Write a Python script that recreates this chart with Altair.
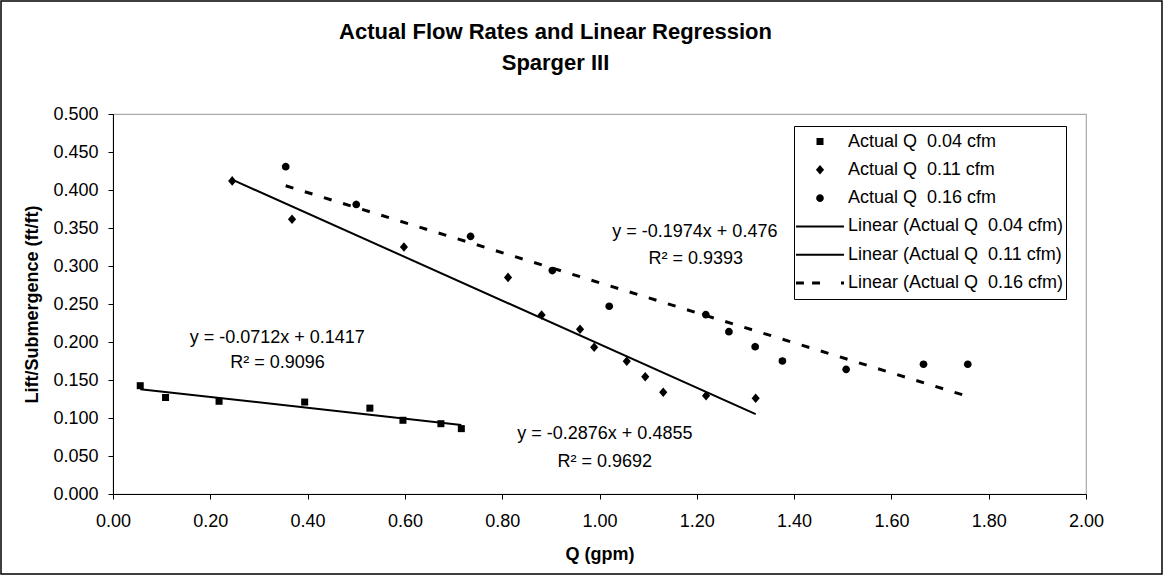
import math
import altair as alt
import pandas as pd

# ---------------- data ----------------
series_names = ["Actual Q\u00a0 0.04 cfm", "Actual Q\u00a0 0.11 cfm", "Actual Q\u00a0 0.16 cfm"]
trend_names = ["Linear (Actual Q\u00a0 0.04 cfm)", "Linear (Actual Q\u00a0 0.11 cfm)",
               "Linear (Actual Q\u00a0 0.16 cfm)"]

q_004 = [0.056, 0.108, 0.218, 0.394, 0.528, 0.596, 0.674, 0.716]
ls_004 = [0.1425, 0.127, 0.122, 0.121, 0.113, 0.097, 0.0925, 0.086]

q_011 = [0.245, 0.368, 0.598, 0.812, 0.881, 0.960, 0.989, 1.056, 1.094, 1.131, 1.219, 1.321]
ls_011 = [0.412, 0.3615, 0.325, 0.285, 0.2355, 0.2167, 0.193, 0.1746, 0.1543, 0.1338, 0.1293, 0.1259]

q_016 = [0.355, 0.500, 0.735, 0.903, 1.020, 1.2185, 1.266, 1.320, 1.376, 1.507, 1.666, 1.757]
ls_016 = [0.4307, 0.381, 0.339, 0.294, 0.247, 0.236, 0.2136, 0.1938, 0.175, 0.164, 0.1707, 0.1707]

eq_text = ["y = -0.0712x + 0.1417", "R\u00b2 = 0.9096",
           "y = -0.2876x + 0.4855", "R\u00b2 = 0.9692",
           "y = -0.1974x + 0.476", "R\u00b2 = 0.9393"]
eq_q = [0.3375, 0.338, 1.011, 1.011, 1.196, 1.198]
eq_ls = [0.205, 0.172, 0.0792, 0.042, 0.345, 0.309]

x_ticks = [0.0, 0.2, 0.4, 0.6, 0.8, 1.0, 1.2, 1.4, 1.6, 1.8, 2.0]
y_ticks = [0.0, 0.05, 0.1, 0.15, 0.2, 0.25, 0.3, 0.35, 0.4, 0.45, 0.5]

# ---------------- tables ----------------
rows = []
for name, qs, ys in zip(series_names, [q_004, q_011, q_016], [ls_004, ls_011, ls_016]):
    for q, y in zip(qs, ys):
        rows.append({"series": name, "Q": q, "LS": y})
pts = pd.DataFrame(rows)
ann = pd.DataFrame({"text": eq_text, "Q": eq_q, "LS": eq_ls})

FONT = "Liberation Sans"
SYM = 2304  # symbol size -> path unit = 24 px


def poly(r, n=16):
    pts_ = [(r * math.cos(2 * math.pi * k / n), r * math.sin(2 * math.pi * k / n)) for k in range(n)]
    return "M" + "L".join(f"{a:.3f},{b:.3f}" for a, b in pts_) + "Z"


def bar(x0, x1, h):
    return f"M{x0},{-h}H{x1}V{h}H{x0}Z"


sq = "M-0.146,-0.146H0.146V0.146H-0.146Z"
dia = "M0,-0.2L0.17,0L0,0.2L-0.17,0Z"
circ = poly(0.16)
solid = bar(-1, 1, 0.042)
dashed = bar(-1, -0.67, 0.0625) + bar(-0.33, 0, 0.0625) + bar(0.875, 1, 0.0625)

legend_domain = series_names + trend_names
legend_range = [sq, dia, circ, solid, solid, dashed]

xscale = alt.Scale(domain=[0, 2], nice=False, zero=False)
yscale = alt.Scale(domain=[0, 0.5], nice=False, zero=False)

xaxis = alt.Axis(values=x_ticks, format=".2f", title="Q (gpm)", grid=False,
                 labelFont=FONT, labelFontSize=18, labelColor="black",
                 titleFont=FONT, titleFontSize=18, titleFontWeight="bold", titleColor="black",
                 tickSize=5, tickColor="black", domainColor="black", labelPadding=13,
                 titlePadding=15, labelFlush=False, labelOverlap=False)
yaxis = alt.Axis(values=y_ticks, format=".3f", title="Lift/Submergence (ft/ft)", grid=False,
                 labelFont=FONT, labelFontSize=18, labelColor="black",
                 titleFont=FONT, titleFontSize=18, titleFontWeight="bold", titleColor="black",
                 tickSize=5, tickColor="black", domainColor="black", labelPadding=10,
                 titlePadding=11, labelFlush=False, labelOverlap=False)

X = alt.X("Q:Q", scale=xscale, axis=xaxis)
Y = alt.Y("LS:Q", scale=yscale, axis=yaxis)

base = alt.Chart(pts)

points = base.mark_point(filled=True, opacity=1, color="black", size=SYM).encode(
    x=X, y=Y,
    shape=alt.Shape("series:N",
                    scale=alt.Scale(domain=legend_domain, range=legend_range),
                    legend=alt.Legend(title=None, orient="none", legendX=681, legendY=12,
                                      clipHeight=27, rowPadding=1.3, padding=2,
                                      symbolSize=SYM, symbolOffset=0, labelOffset=4,
                                      labelFont=FONT, labelFontSize=18, labelColor="black",
                                      labelLimit=400,
                                      strokeColor="black", fillColor="white",
                                      symbolStrokeWidth=0,
                                      symbolFillColor="black", symbolOpacity=1)),
)

solid_lines = base.transform_filter(
    alt.FieldOneOfPredicate(field="series", oneOf=series_names[:2])
).transform_regression("Q", "LS", groupby=["series"]).mark_line(
    color="black", strokeWidth=2).encode(x=X, y=Y, detail="series:N")

dashed_line = base.transform_filter(
    alt.FieldEqualPredicate(field="series", equal=series_names[2])
).transform_regression("Q", "LS").mark_line(
    color="black", strokeWidth=3, strokeDash=[8, 12]).encode(x=X, y=Y)

labels = alt.Chart(ann).mark_text(font=FONT, fontSize=18, color="black",
                                  align="center", baseline="middle").encode(
    x=X, y=Y, text="text:N")

border = alt.Chart(pd.DataFrame({"a": [0]})).mark_rect(
    filled=False, stroke="black", strokeWidth=1.5).encode(
    x=alt.value(-112), x2=alt.value(1049), y=alt.value(-113), y2=alt.value(460))

chart = alt.layer(points, solid_lines, dashed_line, labels, border).properties(
    width=973, height=380,
    padding={"left": 113, "top": 114, "right": 77, "bottom": 81},
    autosize="none",
    title=alt.Title(["Actual Flow Rates and Linear Regression", "Sparger III"],
                    font=FONT, fontSize=22, fontWeight="bold", color="black",
                    anchor="middle", frame="group", dx=-44, offset=0, dy=75, lineHeight=31),
    background="white",
).configure_view(stroke="#aaaaaa", strokeWidth=1.2)

chart.save("out.html", embed_options={"renderer": "svg", "actions": False})
